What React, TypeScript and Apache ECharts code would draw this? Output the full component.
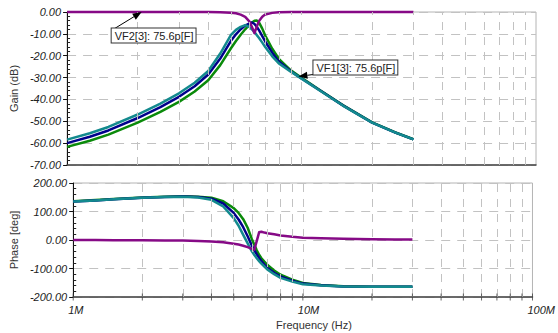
import React, { useEffect, useRef } from "react";
import * as echarts from "echarts";

// Frequencies in MHz shared by every trace
const freqMHz = [1, 1.25, 1.5, 2, 2.5, 3, 3.5, 4, 4.5, 5, 5.25, 5.5, 5.75, 6, 6.15, 6.3, 6.45, 6.6, 6.8, 7, 7.5, 8, 9, 10, 12, 15, 20, 25, 30];

// Gain (dB)
const gainGreen = [-61.7, -58.9, -56.1, -50.6, -45.7, -41.1, -36.4, -31.2, -24.3, -16.6, -13.3, -10.4, -7.9, -5.8, -4.8, -4.0, -3.9, -5.0, -7.6, -10.8, -16.8, -21.4, -26.7, -30.1, -35.8, -42.6, -50.5, -55.0, -58.2];
const gainBlue = [-60.0, -57.1, -54.2, -48.5, -43.5, -38.8, -34.0, -28.6, -21.3, -13.2, -10.2, -7.9, -6.2, -5.2, -4.8, -5.5, -6.8, -8.5, -11.0, -13.5, -18.6, -22.6, -27.1, -30.4, -35.9, -42.7, -50.6, -55.1, -58.3];
const gainTeal = [-58.4, -55.5, -52.6, -46.9, -41.9, -37.2, -32.4, -27.0, -19.0, -10.5, -8.2, -6.8, -6.0, -6.9, -8.0, -9.2, -10.6, -12.0, -14.0, -16.0, -20.3, -23.5, -27.3, -30.5, -36.0, -42.8, -50.6, -55.1, -58.3];
const gainPurple = [0, 0, 0, 0, 0, 0, 0, 0, -0.1, -0.3, -0.6, -1.2, -2.2, -4.4, -7.0, -9.7, -6.5, -4.0, -2.2, -1.1, -0.4, -0.15, 0, 0, 0, 0, 0, 0, 0];

// Phase (deg)
const phaseGreen = [136, 140, 144, 149, 152, 153.5, 152, 148, 136, 112, 95, 73, 43, 3, -17, -36, -52, -64, -76, -87, -107, -122, -139, -151, -158, -162, -164, -164, -164];
const phaseBlue = [135, 139, 143, 148, 151, 152.5, 150.5, 145, 128, 95, 72, 45, 13, -20, -36, -50, -63, -74, -86, -97, -115, -128, -143, -153, -159, -163, -164, -164, -164];
const phaseTeal = [135, 139, 143, 148, 151, 152, 149, 141, 118, 77, 50, 18, -12, -40, -53, -64, -74, -83, -93, -103, -120, -133, -146, -155, -160, -163, -164, -164, -164];
const phasePurple = [0, -0.3, -0.6, -1, -1.5, -2, -3.2, -5, -8, -13, -16, -20, -25, -31, -34, -3, 27, 29, 26, 24, 20, 16, 11, 8, 6, 4.5, 3, 2, 2];

// Axis ticks / labels
const xTickValues = [1e6, 1e7, 1e8];
const xTickLabels = ["1M", "10M", "100M"];
const gridFreqs = [2e6, 3e6, 4e6, 5e6, 6e6, 7e6, 8e6, 9e6, 1e7, 2e7, 3e7, 4e7, 5e7, 6e7, 7e7, 8e7, 9e7];
const tickFreqs = [1e6, 2e6, 3e6, 4e6, 5e6, 6e6, 7e6, 8e6, 9e6, 1e7, 2e7, 3e7, 4e7, 5e7, 6e7, 7e7, 8e7, 9e7, 1e8];

const annotation1 = { label: "VF2[3]: 75.6p[F]", freq: 2.08e6, value: 0 };
const annotation2 = { label: "VF1[3]: 75.6p[F]", freq: 9.7e6, value: -29.5 };

const FONT = "'Liberation Sans', Arial, sans-serif";
const C_GREEN = "#0a8a0a";
const C_BLUE = "#00008b";
const C_TEAL = "#138a8e";
const C_PURPLE = "#860a86";
const GRID_COLOR = "#c2c2c2";

const pairs = (vals: number[]) => freqMHz.map((f, i) => [f * 1e6, vals[i]]);

export default function App() {
  const ref = useRef<HTMLDivElement>(null);
  useEffect(() => {
    const chart = echarts.init(ref.current!, null, { renderer: "svg" });

    const xLabelFmt = (v: number) => {
      const idx = xTickValues.findIndex((t) => Math.abs(Math.log10(v) - Math.log10(t)) < 1e-6);
      return idx >= 0 ? xTickLabels[idx] : "";
    };

    const mkX = (gi: number, labels: boolean) => ({
      gridIndex: gi,
      type: "log",
      logBase: 10,
      min: 1e6,
      max: 1e8,
      axisLine: { onZero: false, lineStyle: { color: "#444", width: 1.5 } },
      axisTick: { show: false },
      splitLine: { show: false },
      axisLabel: labels
        ? {
            show: true,
            formatter: xLabelFmt,
            fontStyle: "italic",
            fontFamily: FONT,
            fontSize: 11,
            color: "#222",
            margin: 7,
            align: "left",
            padding: [0, 0, 0, -5],
          }
        : { show: false },
    });

    const mkY = (gi: number, min: number, max: number, interval: number, name: string, nameGap: number) => ({
      gridIndex: gi,
      type: "value",
      min,
      max,
      interval,
      name,
      nameLocation: "middle",
      nameGap,
      nameTextStyle: { fontFamily: FONT, fontSize: 11, color: "#333" },
      axisLine: { show: true, onZero: false, lineStyle: { color: "#111", width: 1 } },
      axisTick: { show: true, length: 4, lineStyle: { color: "#111" } },
      minorTick: { show: true, splitNumber: 5, length: -3, lineStyle: { color: "#222" } },
      axisLabel: {
        formatter: (v: number) => v.toFixed(2),
        fontStyle: "italic",
        fontFamily: FONT,
        fontSize: 11,
        color: "#222",
        margin: 6,
      },
      splitLine: { show: true, lineStyle: { color: GRID_COLOR, type: [9, 7], width: 1 } },
    });

    const curve = (name: string, gi: number, vals: number[], color: string) => ({
      name,
      type: "line",
      xAxisIndex: gi,
      yAxisIndex: gi,
      data: pairs(vals),
      showSymbol: false,
      smooth: false,
      clip: false,
      lineStyle: { color, width: 2.5, join: "round" },
      itemStyle: { color },
      z: 3,
    });

    const vgrid = (gi: number) => ({
      type: "line",
      xAxisIndex: gi,
      yAxisIndex: gi,
      data: [],
      z: 1,
      silent: true,
      markLine: {
        silent: true,
        symbol: ["none", "none"],
        label: { show: false },
        lineStyle: { color: GRID_COLOR, type: [8, 7], width: 1 },
        data: gridFreqs.map((f) => ({ xAxis: f })),
      },
    });

    chart.setOption({
      animation: false,
      backgroundColor: "#fff",
      textStyle: { fontFamily: FONT },
      grid: [
        { left: 65, right: 22, top: 12, height: 153, show: true, borderColor: "#b4b4b4", borderWidth: 1 },
        { left: 72, right: 22, top: 183, height: 114, show: true, borderColor: "#b4b4b4", borderWidth: 1 },
      ],
      xAxis: [mkX(0, false), mkX(1, true)],
      yAxis: [mkY(0, -70, 0, 10, "Gain (dB)", 37), mkY(1, -200, 200, 100, "Phase [deg]", 43)],
      series: [
        vgrid(0),
        vgrid(1),
        curve("VF3 gain", 0, gainGreen, C_GREEN),
        curve("VF1 gain", 0, gainBlue, C_BLUE),
        curve("VF4 gain", 0, gainTeal, C_TEAL),
        curve("VF2 gain", 0, gainPurple, C_PURPLE),
        curve("VF3 phase", 1, phaseGreen, C_GREEN),
        curve("VF1 phase", 1, phaseBlue, C_BLUE),
        curve("VF4 phase", 1, phaseTeal, C_TEAL),
        curve("VF2 phase", 1, phasePurple, C_PURPLE),
        {
          type: "scatter",
          xAxisIndex: 1,
          yAxisIndex: 1,
          data: tickFreqs.map((f) => [f, -200]),
          symbol: "rect",
          symbolSize: [1, 7],
          itemStyle: { color: "#444" },
          silent: true,
          clip: false,
          z: 5,
        },
      ],
    });

    const tip1 = chart.convertToPixel({ xAxisIndex: 0, yAxisIndex: 0 }, [annotation1.freq, annotation1.value]) as number[];
    const tip2 = chart.convertToPixel({ xAxisIndex: 0, yAxisIndex: 0 }, [annotation2.freq, annotation2.value]) as number[];

    const arrow = (tail: number[], tip: number[]) => {
      const dx = tip[0] - tail[0];
      const dy = tip[1] - tail[1];
      const len = Math.sqrt(dx * dx + dy * dy) || 1;
      const ux = dx / len;
      const uy = dy / len;
      const L = 9;
      const W = 3.5;
      const bx = tip[0] - ux * L;
      const by = tip[1] - uy * L;
      return [
        { type: "line", z: 50, shape: { x1: tail[0], y1: tail[1], x2: bx, y2: by }, style: { stroke: "#000", lineWidth: 1 } },
        {
          type: "polygon",
          z: 50,
          shape: { points: [[tip[0], tip[1]], [bx - uy * W, by + ux * W], [bx + uy * W, by - ux * W]] },
          style: { fill: "#000" },
        },
      ];
    };

    const box = (x: number, y: number, text: string) => ({
      type: "text",
      z: 51,
      x,
      y,
      style: {
        text,
        font: `11px ${FONT}`,
        fill: "#222",
        backgroundColor: "#fff",
        borderColor: "#333",
        borderWidth: 1,
        padding: [2, 2, 1, 3],
      },
    });

    chart.setOption({
      graphic: [
        ...arrow([tip1[0] - 27, tip1[1] + 16.5], tip1),
        box(tip1[0] - 30, tip1[1] + 16.5, annotation1.label),
        ...arrow([tip2[0] + 15, tip2[1] - 2], tip2),
        box(tip2[0] + 15, tip2[1] - 16, annotation2.label),
        {
          type: "text",
          z: 10,
          x: 314,
          y: 325,
          style: { text: "Frequency (Hz)", font: `11px ${FONT}`, fill: "#333", textAlign: "center", textVerticalAlign: "middle" },
        },
      ],
    });

    return () => chart.dispose();
  }, []);
  return <div ref={ref} style={{ position: "fixed", left: 0, top: 0, width: 558, height: 333 }} />;
}
